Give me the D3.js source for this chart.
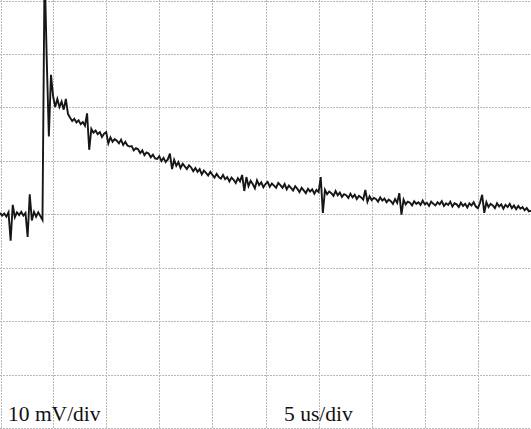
<!DOCTYPE html>
<html>
<head>
<meta charset="utf-8">
<script src="https://cdn.jsdelivr.net/npm/d3@7"></script>
<style>
  html, body { margin: 0; padding: 0; background: #fff; }
  svg { display: block; }
</style>
</head>
<body>
<div id="chart"></div>
<script>
// scope settings
const voltsPerDiv = 10;   // mV/div
const timePerDiv = 5;     // us/div
const xDivs = 10;
const yDivs = 8;
const sampleInterval = 0.2; // us between samples

const labels = ["10 mV/div", "5 us/div"];

// captured trace, mV (one sample every 0.2 us)
const trace = [
  0.2, -0.3, 0.1, -0.5, 0.3, -5.0, 1.7, -0.6, 0.3, -0.2,
  0.4, -0.3, 0.2, -4.3, 3.7, -1.2, 0.4, -0.5, 0.3, -0.4,
  -1.1, 46.0, 29.0, 14.5, 26.0, 22.0, 20.0, 21.5, 20.0, 21.0,
  19.5, 21.5, 18.7, 18.0, 17.4, 17.8, 17.1, 17.5, 16.8, 17.2,
  16.5, 18.8, 12.0, 15.9, 15.2, 15.6, 14.9, 15.3, 14.4, 15.0,
  15.3, 13.2,
  14.3, 13.5, 14.0, 13.7, 13.2, 13.9, 12.9, 13.5, 12.8, 12.6,
  12.7, 11.9, 12.3, 12.1, 11.4, 11.9, 11.0, 11.5, 11.3, 10.6,
  11.1, 10.4, 10.3, 10.8, 9.9, 10.5, 9.7, 10.2, 11.3, 8.4,
  10.1, 9.0, 9.7, 8.6, 9.4, 8.9, 8.4, 9.1, 8.7, 8.0,
  8.6, 7.9, 8.4, 7.4, 8.1, 7.7, 7.2, 7.9, 7.3, 6.8,
  7.5, 6.9, 6.6, 7.3, 6.5, 6.9, 6.1, 6.8, 6.4, 5.8, 6.7, 6.1,
  7.3, 4.3, 6.9, 5.2, 6.2, 5.6, 4.8, 6.3, 5.4, 5.9, 5.0, 5.6, 6.0, 5.1, 5.7, 5.3, 4.9, 5.8,
  5.4, 4.9, 5.6, 4.6, 5.3, 4.9, 4.4, 5.2, 4.7, 4.1, 4.9, 4.4, 3.9, 4.7, 4.2, 4.6, 3.8, 4.5, 4.1,
  6.9, 0.2,
  4.5, 3.7, 4.2, 3.9, 3.4, 4.3, 3.5, 4.0, 3.2, 3.7, 3.5, 3.0, 3.8, 3.1, 3.6, 2.8, 3.4, 3.1, 2.7,
  4.5, 2.3,
  3.3, 2.6, 3.0, 2.8, 2.3, 3.1, 2.5, 2.9, 2.2, 2.7, 2.4, 1.9, 2.8, 2.1,
  3.9, -0.1,
  2.7, 1.8, 2.3, 2.1, 1.6, 2.4, 1.9, 2.2, 1.7, 2.5, 1.8, 2.1, 1.5, 2.3, 1.9, 1.6, 2.2, 1.8,
  2.4, 1.5, 2.0, 1.7, 2.3, 1.4, 2.0, 1.8, 1.3, 2.1, 1.5, 1.9, 1.2, 2.0, 1.6, 2.2, 1.4, 1.1, 2.1,
  3.6, 0.2,
  2.2, 1.3, 1.9, 1.6, 1.1, 2.0, 1.4, 1.8, 1.0, 1.7, 1.3, 1.9, 1.1, 1.6, 0.9, 1.5, 1.0, 1.3,
  0.7, 1.1, 0.5, 0.6
];

const width = 531;
const height = 429;
const plotH = 428;

const x = d3.scaleLinear()
    .domain([0, xDivs * timePerDiv])
    .range([0, width]);

const y = d3.scaleLinear()
    .domain([-yDivs / 2 * voltsPerDiv, yDivs / 2 * voltsPerDiv])
    .range([plotH, 0]);

const svg = d3.select("#chart").append("svg")
    .attr("width", width)
    .attr("height", height)
    .style("font-family", "'Liberation Serif', 'Times New Roman', serif");

svg.append("defs").append("clipPath")
    .attr("id", "clip")
  .append("rect")
    .attr("width", width)
    .attr("height", plotH);

// graticule
const grid = svg.append("g")
    .attr("stroke", "#b9b9b9")
    .attr("stroke-width", 1)
    .attr("stroke-dasharray", "2,1");

grid.selectAll("line.v")
  .data(d3.range(0, xDivs + 1).map(i => i * timePerDiv))
  .join("line")
    .attr("class", "v")
    .attr("x1", d => Math.max(1, Math.round(x(d))) + 0.5)
    .attr("x2", d => Math.max(1, Math.round(x(d))) + 0.5)
    .attr("y1", 0)
    .attr("y2", plotH);

grid.selectAll("line.h")
  .data(d3.range(-yDivs / 2, yDivs / 2 + 1).map(i => i * voltsPerDiv))
  .join("line")
    .attr("class", "h")
    .attr("x1", 0)
    .attr("x2", width)
    .attr("y1", d => Math.max(1, Math.round(y(d))) + 0.5)
    .attr("y2", d => Math.max(1, Math.round(y(d))) + 0.5);

// trace
const line = d3.line()
    .x((d, i) => x(i * sampleInterval))
    .y(d => y(d));

svg.append("path")
    .datum(trace)
    .attr("clip-path", "url(#clip)")
    .attr("fill", "none")
    .attr("stroke", "#161616")
    .attr("stroke-width", 1.9)
    .attr("stroke-linejoin", "miter")
    .attr("d", line);

// scale labels
svg.append("text")
    .attr("x", 8)
    .attr("y", 421)
    .attr("font-size", 21.5)
    .attr("fill", "#111")
    .text(labels[0]);

svg.append("text")
    .attr("x", 284)
    .attr("y", 421)
    .attr("font-size", 21.5)
    .attr("fill", "#111")
    .text(labels[1]);
</script>
</body>
</html>
